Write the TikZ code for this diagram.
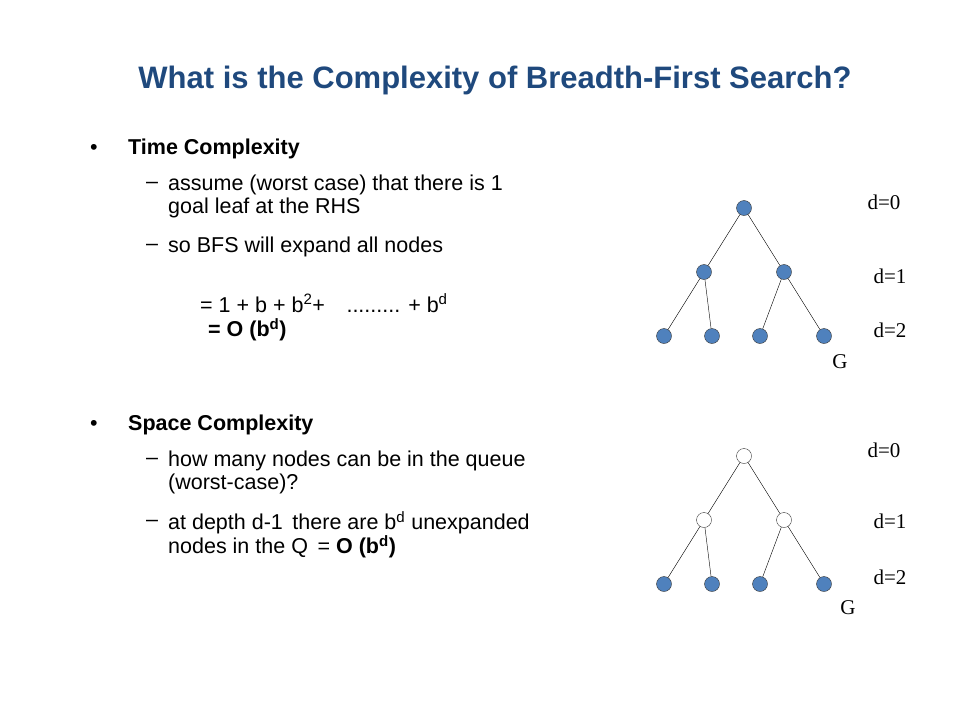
\documentclass[tikz,border=0pt]{standalone}
\usepackage{fontspec}
\setmainfont{Liberation Sans}
\newfontfamily\serifrm{Liberation Serif}
\definecolor{titleblue}{RGB}{31,73,125}
\definecolor{nodeblue}{RGB}{79,129,189}
\begin{document}
\begin{tikzpicture}[x=1pt,y=-1pt,
  full/.style={circle,draw=black!80,fill=nodeblue,minimum size=15pt,inner sep=0pt},
  open/.style={circle,draw=black!80,fill=white,minimum size=15pt,inner sep=0pt},
  txt/.style={anchor=west,inner sep=0pt,font=\fontsize{21.5}{25}\selectfont},
  lbl/.style={inner sep=0pt,font=\serifrm\fontsize{21}{24}\selectfont}]
\useasboundingbox (0,0) rectangle (960,720);
\node[font=\bfseries\fontsize{31}{36}\selectfont,text=titleblue] (title) at (495,80) {What is the Complexity of Breadth-First Search?};
% time complexity
\node[txt] (b1) at (90,149) {•};
\node[txt] (t1) at (128,149) {\bfseries Time Complexity};
\node[txt] (d1) at (146,185) {–};
\node[txt] (t2) at (168,185) {assume (worst case) that there is 1};
\node[txt] (t3) at (168,208) {goal leaf at the RHS};
\node[txt] (d2) at (146,247) {–};
\node[txt] (t4) at (168,247) {so BFS will expand all nodes};
\node[txt] (t5) at (200,303) {= 1 + b + b\textsuperscript{2}+\quad  ......... + b\textsuperscript{d}};
\node[txt] (t6) at (208,330) {\bfseries = O (b\textsuperscript{d})};
% space complexity
\node[txt] (b2) at (90,425) {•};
\node[txt] (s1) at (128,425) {\bfseries Space Complexity};
\node[txt] (d3) at (146,461) {–};
\node[txt] (s2) at (168,461) {how many nodes can be in the queue};
\node[txt] (s3) at (168,484) {(worst-case)?};
\node[txt] (d4) at (146,523) {–};
\node[txt] (s4) at (168,523) {at depth d-1\, there are b\textsuperscript{d} unexpanded};
\node[txt] (s5) at (168,547) {nodes in the Q\, = \textbf{O (b\textsuperscript{d})}};
% upper tree
\node[full] (r) at (744,208) {};
\node[full] (l) at (704,272) {};
\node[full] (m) at (784,272) {};
\node[full] (a) at (664,336) {};
\node[full] (b) at (712,336) {};
\node[full] (c) at (760,336) {};
\node[full] (g) at (824,336) {};
\draw (r)--(l) (r)--(m) (l)--(a) (l)--(b) (m)--(c) (m)--(g);
\node[lbl] (g0) at (884,202) {d=0};
\node[lbl] (g1) at (890,276) {d=1};
\node[lbl] (g2) at (890,330) {d=2};
\node[lbl] (gg) at (840,362) {G};
% lower tree
\node[open] (r') at (744,456) {};
\node[open] (l') at (704,520) {};
\node[open] (m') at (784,520) {};
\node[full] (a') at (664,584) {};
\node[full] (b') at (712,584) {};
\node[full] (c') at (760,584) {};
\node[full] (g') at (824,584) {};
\draw (r')--(l') (r')--(m') (l')--(a') (l')--(b') (m')--(c') (m')--(g');
\node[lbl] (h0) at (884,450) {d=0};
\node[lbl] (h1) at (890,521) {d=1};
\node[lbl] (h2) at (890,577) {d=2};
\node[lbl] (hg) at (848,608) {G};
\end{tikzpicture}
\end{document}
